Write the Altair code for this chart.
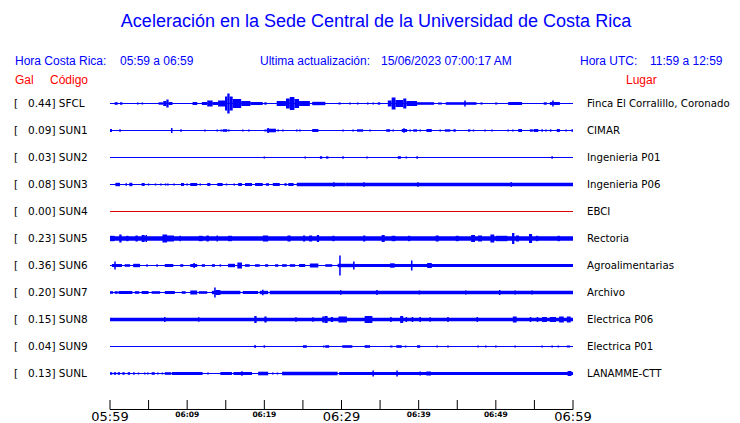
import altair as alt
import pandas as pd

# ---------------- data ----------------
CODES = ["SFCL", "SUN1", "SUN2", "SUN3", "SUN4", "SUN5", "SUN6", "SUN7", "SUN8", "SUN9", "SUNL"]
GAL = [0.44, 0.09, 0.03, 0.08, 0.00, 0.23, 0.36, 0.20, 0.15, 0.04, 0.13]
PLACES = ["Finca El Corralillo, Coronado", "CIMAR", "Ingenieria P01", "Ingenieria P06", "EBCI",
          "Rectoria", "Agroalimentarias", "Archivo", "Electrica P06", "Electrica P01", "LANAMME-CTT"]
TRACE_COLORS = ["#0000ff"] * 4 + ["#dd0000"] + ["#0000ff"] * 6

# bursts per station: (start minute, end minute, half amplitude)
SFCL = [(0.6, 1.0, 1.3), (1.3, 1.6, 1.2), (3.5, 3.7, 1.0), (4.1, 4.3, 1.0), (6.3, 6.9, 1.2), (6.9, 7.3, 2.5),
        (7.3, 7.6, 4.0), (7.6, 8.1, 1.5), (10.7, 11.3, 1.5), (11.9, 12.6, 1.5), (12.6, 13.3, 3.0), (13.3, 14.0, 1.5),
        (14.0, 14.9, 3.0), (14.9, 15.2, 7.0), (15.2, 15.5, 10.0), (15.5, 15.9, 7.0), (15.9, 17.0, 4.5),
        (17.0, 18.2, 2.5), (18.2, 19.8, 1.5), (20.0, 20.3, 1.2), (21.6, 22.8, 2.5), (22.8, 23.3, 5.0),
        (23.3, 23.9, 6.5), (23.9, 24.5, 4.5), (24.5, 25.9, 2.5), (26.2, 27.9, 1.7), (29.6, 29.9, 1.0),
        (31.0, 31.2, 1.0), (32.0, 32.2, 1.0), (33.3, 33.5, 1.0), (34.0, 34.2, 1.0), (34.7, 35.0, 1.2),
        (36.0, 36.5, 3.0), (36.5, 37.0, 6.0), (37.0, 38.0, 3.5), (38.0, 38.4, 5.0), (38.4, 39.8, 2.5),
        (39.8, 42.0, 1.3), (42.5, 43.0, 1.0), (43.5, 47.5, 1.3), (45.9, 46.1, 3.0), (48.0, 48.3, 1.0),
        (49.9, 50.2, 1.0), (51.6, 53.4, 1.5), (56.2, 56.6, 1.2), (57.0, 58.3, 1.5), (57.3, 57.5, 3.0)]
SUN1 = [(0.0, 0.25, 1.5), (1.2, 1.4, 1.2), (7.9, 8.1, 2.5), (9.1, 9.3, 1.3), (12.2, 12.4, 1.0), (13.8, 14.0, 1.0),
        (14.3, 14.5, 1.0), (14.6, 15.2, 1.3), (15.3, 15.5, 1.0), (17.1, 17.3, 1.0), (17.9, 18.1, 1.0),
        (20.0, 20.2, 1.0), (20.3, 21.5, 1.8), (20.4, 20.6, 2.5), (21.7, 21.9, 1.0), (22.3, 22.5, 1.0),
        (24.1, 24.3, 1.0), (24.5, 24.7, 1.0), (26.2, 27.0, 1.5), (30.1, 30.3, 1.0), (31.4, 31.6, 1.0),
        (32.0, 32.8, 1.2), (33.6, 33.8, 1.0), (35.8, 36.3, 1.3), (36.6, 36.8, 1.0), (37.8, 38.5, 1.5),
        (38.0, 38.2, 2.2), (38.8, 39.0, 1.0), (39.3, 39.8, 1.2), (40.1, 40.3, 1.0), (41.0, 41.7, 1.5),
        (42.7, 42.9, 1.0), (43.4, 44.1, 1.2), (44.5, 44.8, 1.3), (46.4, 46.7, 1.2), (47.0, 47.2, 1.0),
        (48.5, 48.7, 1.0), (49.4, 49.6, 1.0), (51.5, 51.7, 1.0), (52.1, 52.3, 1.0), (52.9, 53.4, 1.5),
        (54.4, 54.8, 1.2), (54.9, 55.5, 1.5), (55.9, 56.1, 1.2), (56.4, 56.6, 1.0), (57.0, 57.2, 1.2),
        (57.9, 58.3, 1.5), (59.0, 59.2, 1.0), (59.8, 60.0, 1.2)]
SUN2 = [(19.9, 20.1, 1.0), (25.2, 25.4, 1.0), (27.2, 27.5, 1.3), (28.0, 28.3, 1.2), (30.1, 30.3, 1.2),
        (33.2, 33.4, 1.0), (37.3, 37.7, 1.3), (38.3, 38.5, 1.0), (39.7, 39.9, 1.2), (57.2, 57.4, 1.2)]
SUN3 = [(0.7, 1.3, 1.7), (2.0, 2.2, 1.2), (2.5, 2.9, 1.7), (4.1, 4.5, 1.5), (4.9, 5.1, 1.0), (5.8, 6.0, 1.0),
        (6.5, 6.7, 1.0), (7.1, 7.3, 1.0), (7.4, 7.6, 1.0), (8.2, 8.4, 1.0), (9.2, 9.6, 1.5), (9.9, 10.1, 1.0),
        (10.4, 11.3, 1.5), (11.6, 11.8, 1.0), (12.6, 13.0, 1.5), (13.9, 14.6, 1.5), (15.0, 15.2, 1.0),
        (16.0, 16.2, 1.0), (16.6, 17.1, 1.5), (17.5, 18.4, 1.5), (18.8, 19.8, 1.5), (20.2, 20.6, 1.3),
        (21.1, 22.0, 1.5), (22.6, 22.9, 1.3), (23.1, 23.8, 1.5), (24.2, 30.5, 1.7), (28.9, 29.1, 2.3),
        (30.5, 60.0, 1.7), (32.8, 33.0, 2.3), (39.8, 40.0, 2.3), (51.9, 52.1, 2.3)]
SUN4 = []
SUN5 = [(0.0, 60.0, 2.2), (0.0, 0.6, 2.7), (1.2, 1.5, 4.0), (2.1, 2.4, 2.7), (3.3, 3.6, 3.0), (4.1, 4.5, 3.5),
        (4.6, 4.8, 3.5), (6.8, 7.4, 4.0), (7.4, 8.3, 3.0), (9.0, 9.2, 2.7), (11.5, 12.0, 2.7), (12.5, 12.8, 3.0),
        (13.8, 14.0, 3.0), (15.3, 15.8, 2.7), (19.8, 20.5, 3.0), (23.0, 23.4, 3.0), (25.0, 25.3, 3.0),
        (25.8, 26.2, 3.0), (26.8, 27.1, 3.5), (28.8, 29.1, 2.7), (32.8, 33.1, 3.0), (35.2, 35.6, 3.5),
        (36.5, 37.0, 2.7), (38.6, 38.9, 2.7), (42.2, 42.6, 3.0), (44.8, 45.2, 2.7), (46.8, 47.3, 3.5),
        (47.7, 48.2, 3.0), (49.3, 49.8, 4.0), (50.0, 51.5, 2.7), (52.1, 52.4, 5.5), (52.6, 53.0, 3.0),
        (54.3, 54.7, 4.5), (55.2, 55.5, 2.7), (58.0, 58.3, 2.7)]
SUN6 = [(0.25, 1.55, 1.5), (0.55, 0.75, 4.0), (1.9, 2.6, 1.3), (3.0, 3.9, 1.7), (4.7, 4.9, 1.2), (6.0, 6.2, 1.2),
        (7.1, 8.2, 1.5), (9.1, 9.5, 1.3), (10.4, 11.3, 1.5), (10.8, 11.0, 2.5), (11.9, 12.3, 1.3),
        (13.2, 13.6, 1.3), (14.2, 14.4, 1.2), (15.3, 16.2, 1.7), (16.5, 17.1, 3.0), (17.5, 18.1, 1.3),
        (18.8, 19.4, 1.3), (20.1, 20.5, 1.3), (21.4, 21.8, 1.3), (22.3, 22.9, 1.3), (23.3, 24.0, 1.3),
        (24.5, 25.3, 1.5), (25.9, 27.0, 2.0), (27.9, 28.8, 1.3), (29.5, 31.7, 1.7), (29.7, 29.9, 10.0),
        (31.5, 31.7, 4.0), (31.7, 60.0, 1.5), (36.3, 36.9, 2.2), (39.0, 39.2, 5.0), (41.1, 41.7, 2.5)]
SUN7 = [(0.0, 0.4, 1.3), (0.6, 1.0, 1.3), (1.1, 2.9, 1.5), (3.2, 3.8, 1.3), (4.1, 5.0, 1.5), (5.4, 6.5, 1.3),
        (7.1, 8.4, 1.5), (9.3, 9.8, 1.3), (10.4, 11.3, 2.0), (11.5, 12.6, 1.3), (13.2, 16.9, 1.7),
        (13.5, 13.7, 5.0), (13.7, 14.3, 2.5), (17.2, 19.2, 1.5), (19.4, 20.5, 1.7), (19.7, 19.9, 2.8),
        (20.7, 60.0, 1.7), (29.8, 30.0, 2.3), (34.5, 34.7, 2.5), (40.0, 40.2, 2.0), (46.0, 46.2, 2.0),
        (50.4, 50.6, 2.5), (52.4, 52.6, 2.0), (54.6, 54.8, 2.0)]
SUN8 = [(0.0, 60.0, 1.8), (7.0, 7.2, 2.5), (11.4, 11.6, 2.2), (18.7, 19.0, 3.5), (20.0, 20.3, 3.0),
        (24.0, 24.2, 2.2), (26.2, 26.4, 2.2), (27.5, 27.8, 3.0), (27.8, 28.2, 3.5), (28.6, 28.9, 2.5),
        (29.6, 30.7, 3.0), (33.0, 34.0, 3.5), (36.3, 36.5, 2.5), (37.6, 38.0, 3.5), (38.3, 38.5, 2.5),
        (39.1, 39.3, 2.5), (40.1, 40.3, 2.5), (41.4, 41.6, 2.2), (43.7, 43.9, 2.5), (47.5, 47.7, 2.5),
        (52.2, 52.7, 3.0), (54.4, 54.6, 2.5), (55.3, 55.5, 2.5), (56.0, 56.6, 2.5), (57.0, 57.8, 2.5),
        (58.2, 58.8, 3.0), (59.2, 59.7, 3.0)]
SUN9 = [(18.7, 18.9, 1.5), (19.9, 20.1, 1.2), (25.0, 25.5, 1.3), (27.6, 27.8, 1.0), (27.9, 28.4, 1.3),
        (30.1, 31.4, 1.3), (33.0, 33.7, 1.3), (36.3, 36.6, 1.0), (37.1, 37.8, 1.3), (38.2, 38.4, 1.0),
        (39.8, 40.2, 1.3), (42.3, 42.5, 1.0), (43.7, 43.9, 1.0), (47.6, 47.8, 1.0), (48.6, 48.8, 1.0),
        (49.9, 50.1, 1.0), (52.4, 52.6, 1.0), (55.9, 56.1, 1.0), (57.2, 57.4, 1.0), (58.0, 58.2, 1.0),
        (59.2, 59.6, 1.0)]
SUNL = [(0.0, 0.3, 1.3), (0.5, 0.8, 1.3), (1.0, 1.3, 1.3), (1.6, 1.9, 1.3), (2.3, 2.6, 1.3), (3.0, 3.2, 1.3),
        (3.6, 3.8, 1.0), (4.4, 4.6, 1.0), (4.8, 5.0, 1.0), (5.4, 5.8, 1.3), (6.1, 6.3, 1.0), (6.7, 6.9, 1.0),
        (7.1, 7.9, 1.3), (8.0, 12.0, 1.5), (12.6, 12.8, 1.0), (14.3, 15.8, 1.5), (16.0, 18.4, 1.5),
        (17.0, 17.2, 2.2), (19.2, 20.5, 1.8), (21.0, 21.2, 1.0), (21.6, 21.8, 1.0), (22.3, 29.5, 1.7),
        (29.7, 60.0, 1.5), (34.0, 34.2, 3.0), (37.1, 37.3, 3.0), (40.1, 40.3, 2.0), (41.0, 41.6, 2.0),
        (59.3, 59.8, 2.5)]
STATION_BURSTS = [SFCL, SUN1, SUN2, SUN3, SUN4, SUN5, SUN6, SUN7, SUN8, SUN9, SUNL]

TICK_MINUTES = list(range(0, 61, 5))
BIG_TICK_LABELS = ["05:59", "06:29", "06:59"]
BIG_TICK_MINUTES = [0, 30, 60]
SMALL_TICK_LABELS = ["06:09", "06:19", "06:39", "06:49"]
SMALL_TICK_MINUTES = [10, 20, 40, 50]

# ---------------- layout ----------------
W, H = 463, 321
ROW0, ROW_STEP = 15.5, 27
BLUE, RED = "#0000ff", "#ff0000"

rows = []
for i, bursts in enumerate(STATION_BURSTS):
    c = ROW0 + ROW_STEP * i
    col = TRACE_COLORS[i]
    rows.append(dict(x=0, x2=60, y=c - 0.5, y2=c + 0.5, col=col))
    for s, e, a in bursts:
        rows.append(dict(x=s, x2=max(e, s + 0.13), y=c - a, y2=c + a, col=col))
traces = pd.DataFrame(rows)

xs = alt.Scale(domain=[0, 60], nice=False, zero=False)
ys = alt.Scale(domain=[0, H], reverse=True, nice=False, zero=False)

trace_layer = alt.Chart(traces).mark_rect(strokeWidth=0).encode(
    x=alt.X("x:Q", scale=xs, axis=None), x2="x2:Q",
    y=alt.Y("y:Q", scale=ys, axis=None), y2="y2:Q",
    color=alt.Color("col:N", scale=None),
)

labels = pd.DataFrame({
    "y": [ROW0 + ROW_STEP * i for i in range(len(CODES))],
    "left": [f"{g:.2f}] {c}" for g, c in zip(GAL, CODES)],
    "place": PLACES,
})
lab_font = "DejaVu Sans"
bracket = alt.Chart(labels).mark_text(align="left", baseline="middle", font=lab_font, fontSize=10.5,
                                      color="black").encode(
    x=alt.value(-96), y=alt.Y("y:Q", scale=ys), text=alt.value("["))
left_lab = alt.Chart(labels).mark_text(align="left", baseline="middle", font=lab_font, fontSize=10.5,
                                       color="black").encode(
    x=alt.value(-82), y=alt.Y("y:Q", scale=ys), text="left:N")
right_lab = alt.Chart(labels).mark_text(align="left", baseline="middle", font=lab_font, fontSize=10.2,
                                        color="black").encode(
    x=alt.value(477), y=alt.Y("y:Q", scale=ys), text="place:N")

# time axis drawn by hand (ticks point upward)
axis_line = alt.Chart(pd.DataFrame({"x": [0], "x2": [60], "y": [H + 0.5]})).mark_rule(
    color="black", strokeWidth=1).encode(x=alt.X("x:Q", scale=xs), x2="x2:Q", y=alt.Y("y:Q", scale=ys))
ticks = alt.Chart(pd.DataFrame({"x": TICK_MINUTES, "y": [H - 9] * len(TICK_MINUTES),
                                "y2": [H + 0.5] * len(TICK_MINUTES)})).mark_rule(
    color="black", strokeWidth=1).encode(x=alt.X("x:Q", scale=xs), y=alt.Y("y:Q", scale=ys), y2="y2:Q")
big_text = alt.Chart(pd.DataFrame({"x": BIG_TICK_MINUTES, "t": BIG_TICK_LABELS,
                                   "y": [H + 7.5] * len(BIG_TICK_LABELS)})).mark_text(
    align="center", baseline="middle", font="DejaVu Sans", fontSize=13, color="black").encode(
    x=alt.X("x:Q", scale=xs), y=alt.Y("y:Q", scale=ys), text="t:N")
small_text = alt.Chart(pd.DataFrame({"x": SMALL_TICK_MINUTES, "t": SMALL_TICK_LABELS,
                                     "y": [H + 6] * len(SMALL_TICK_LABELS)})).mark_text(
    align="center", baseline="middle", font="DejaVu Sans", fontSize=7.5, fontWeight="bold",
    color="black").encode(
    x=alt.X("x:Q", scale=xs), y=alt.Y("y:Q", scale=ys), text="t:N")

# header texts (pixel offsets from the plot's top-left corner)
title = alt.Chart(pd.DataFrame({"t": ["Aceleración en la Sede Central de la Universidad de Costa Rica"]})).mark_text(
    align="center", baseline="middle", font="Liberation Sans", fontSize=18, color=BLUE).encode(
    x=alt.value(266), y=alt.value(-66), text="t:N")
hdr = pd.DataFrame({
    "t": ["Hora Costa Rica:", "05:59 a 06:59", "Ultima actualización:", "15/06/2023 07:00:17 AM",
          "Hora UTC:", "11:59 a 12:59", "Gal", "Código", "Lugar"],
    "px": [-95, 10, 150, 271, 470, 540, -95, -60, 516],
    "py": [-27, -27, -27, -27, -27, -27, -8, -8, -8],
    "c": [BLUE] * 6 + [RED] * 3,
})
header = alt.Chart(hdr).mark_text(align="left", baseline="middle", font="Liberation Sans", fontSize=12).encode(
    x=alt.X("px:Q", scale=None), y=alt.Y("py:Q", scale=None), text="t:N", color=alt.Color("c:N", scale=None))

chart = alt.layer(trace_layer, bracket, left_lab, right_lab, axis_line, ticks, big_text, small_text,
                  title, header).properties(
    width=W, height=H,
    autosize=alt.AutoSizeParams(type="none"),
    padding={"left": 102, "top": 80, "right": 159, "bottom": 14},
    background="white",
).configure_view(stroke=None)

chart.save("out.html", embed_options={"renderer": "svg", "actions": False})
